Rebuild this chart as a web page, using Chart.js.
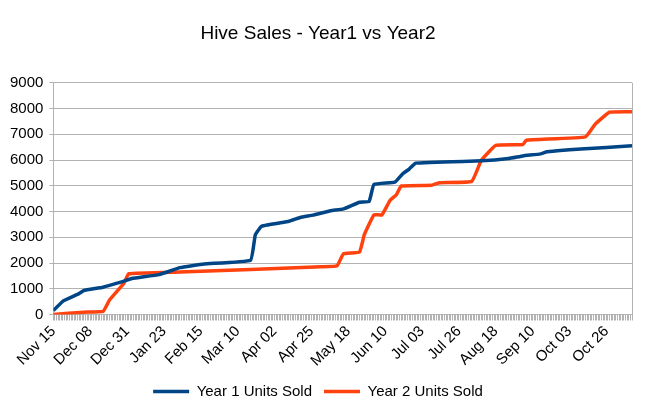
<!DOCTYPE html>
<html>
<head>
<meta charset="utf-8">
<script src="https://cdn.jsdelivr.net/npm/chart.js@4/dist/chart.umd.min.js"></script>
<style>
  body { margin: 0; background: #fff; }
  #wrap { width: 658px; height: 415px; }
</style>
</head>
<body>
<div id="wrap"><canvas id="chart"></canvas></div>
<script>
// days counted from Nov 15 (year 1 start)
const startDate = new Date(2014, 10, 15);
const lastDay = 361;
const tickEvery = 23;

const year1Days = [0, 6, 16, 19, 31, 42, 49, 66, 79, 94, 123, 126, 130, 147, 154, 162, 173, 181, 191, 197, 200, 213, 218, 222, 226, 267, 284, 293, 304, 308, 329, 361];
const year1Units = [150, 520, 810, 930, 1060, 1255, 1400, 1550, 1820, 1965, 2110, 3100, 3430, 3620, 3770, 3860, 4030, 4100, 4360, 4390, 5050, 5140, 5470, 5650, 5880, 5970, 6060, 6160, 6240, 6320, 6430, 6550];

const year2Days = [0, 19, 31, 35, 44, 47, 79, 167, 177, 181, 191, 194, 200, 205, 210, 214, 217, 236, 241, 261, 267, 276, 293, 295, 332, 338, 347, 361];
const year2Units = [0, 90, 120, 560, 1210, 1580, 1650, 1850, 1890, 2360, 2430, 3100, 3870, 3870, 4430, 4650, 4990, 5020, 5120, 5170, 5990, 6570, 6600, 6770, 6900, 7390, 7860, 7880];

const yTicks = [0, 1000, 2000, 3000, 4000, 5000, 6000, 7000, 8000, 9000];

function toPoints(days, vals) {
    return days.map((d, i) => ({ x: d, y: vals[i] }));
}

function dayLabel(d) {
    const dt = new Date(startDate.getFullYear(), startDate.getMonth(), startDate.getDate() + d);
    const mon = dt.toLocaleString('en-US', { month: 'short' });
    return mon + ' ' + String(dt.getDate()).padStart(2, '0');
}

// right edge of the plot frame
const frame = {
    id: 'frame',
    afterDraw(chart) {
        const { ctx, chartArea: a } = chart;
        ctx.save();
        ctx.strokeStyle = '#b3b3b3';
        ctx.lineWidth = 1;
        ctx.beginPath();
        ctx.moveTo(a.right + 0.5, a.top);
        ctx.lineTo(a.right + 0.5, a.bottom);
        ctx.stroke();
        ctx.restore();
    }
};

new Chart(document.getElementById('chart'), {
    type: 'line',
    data: {
        datasets: [{
            label: 'Year 1 Units Sold',
            data: toPoints(year1Days, year1Units),
            borderColor: '#004586',
            backgroundColor: '#004586',
            borderWidth: 3.5,
            pointRadius: 0,
            tension: 0.1
        }, {
            label: 'Year 2 Units Sold',
            data: toPoints(year2Days, year2Units),
            borderColor: '#ff420e',
            backgroundColor: '#ff420e',
            borderWidth: 3.5,
            pointRadius: 0,
            tension: 0.1
        }]
    },
    options: {
        responsive: true,
        maintainAspectRatio: false,
        animation: false,
        layout: { padding: { left: 4, right: 26, top: 8, bottom: 6 } },
        plugins: {
            title: {
                display: true,
                text: 'Hive Sales - Year1 vs Year2',
                color: '#000',
                font: { family: 'Liberation Sans', size: 19, weight: 'normal' },
                padding: { top: 14, bottom: 38 }
            },
            legend: {
                position: 'bottom',
                labels: {
                    color: '#000',
                    font: { family: 'Liberation Sans', size: 15 },
                    usePointStyle: true,
                    pointStyle: 'line',
                    pointStyleWidth: 36,
                    padding: 12
                }
            },
            tooltip: { enabled: false }
        },
        scales: {
            x: {
                type: 'linear',
                min: 0,
                max: lastDay,
                afterBuildTicks(axis) {
                    const t = [];
                    for (let d = 0; d <= lastDay; d++) t.push({ value: d });
                    axis.ticks = t;
                },
                ticks: {
                    autoSkip: false,
                    maxRotation: 45,
                    minRotation: 45,
                    color: '#000',
                    padding: 2,
                    font: { family: 'Liberation Sans', size: 15 },
                    callback: v => (v % tickEvery === 0 && v <= 345) ? dayLabel(v) : ''
                },
                grid: { drawOnChartArea: false, color: '#b3b3b3', tickLength: 6 },
                border: { color: '#b3b3b3' }
            },
            y: {
                min: 0,
                max: 9000,
                afterBuildTicks(axis) {
                    axis.ticks = yTicks.map(v => ({ value: v }));
                },
                ticks: {
                    color: '#000',
                    font: { family: 'Liberation Sans', size: 15 },
                    padding: 6,
                    callback: v => String(v)
                },
                grid: { color: '#b3b3b3', tickLength: 4 },
                border: { color: '#b3b3b3' }
            }
        }
    },
    plugins: [frame]
});
</script>
</body>
</html>
